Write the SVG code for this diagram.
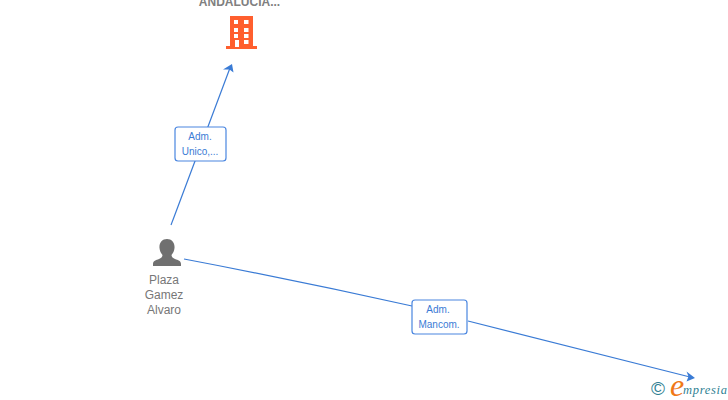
<svg xmlns="http://www.w3.org/2000/svg" width="728" height="400" viewBox="0 0 728 400">
<style>
.edge{fill:none;stroke:#3a7bd5;stroke-width:1.2}
.head{fill:#3a7bd5}
.lbl{fill:#fff;stroke:#4a86e0;stroke-width:1.2}
.lt{font:10px "Liberation Sans",Arial,sans-serif;fill:#3a7bd5;text-anchor:middle}
.nt{font:12px "Liberation Sans",Arial,sans-serif;fill:#777;text-anchor:middle}
</style>
<rect width="728" height="400" fill="#fff"/>
<g id="connectors">
<path class="edge" d="M171 225L230 68"/>
<path class="head" d="M232 64L233.500 72.500L229.500 69.500L223 69.500Z"/>
<path class="edge" d="M184 259Q300 281 412 306M468 321L690 377"/>
<path class="head" d="M695 378L686.500 381.500L688.500 376.500L686.500 371.500Z"/>
</g>
<g id="edge-label-1">
<rect class="lbl" x="175" y="127" width="51" height="34" rx="3"/>
<text class="lt" x="200" y="140">Adm.</text>
<text class="lt" x="200" y="155">Unico,...</text>
</g>
<g id="edge-label-2">
<rect class="lbl" x="412" y="300" width="55" height="34" rx="3"/>
<text class="lt" x="438" y="313">Adm.</text>
<text class="lt" x="439" y="328">Mancom.</text>
</g>
<g id="node-company">
<text x="239.500" y="6" style="font:bold 12px 'Liberation Sans',Arial,sans-serif;fill:#808080;text-anchor:middle">ANDALUCIA...</text>
<path fill="#ff5f2e" fill-rule="evenodd" d="M230 16H253V46H257V49H226V46H230ZM234 20V24H238V20ZM244 20V24H248.500V20ZM234 28V32H238V28ZM244 28V32H248.500V28ZM234 34V38H238V34ZM244 34V38H248.500V34ZM235 40V47H239V40ZM244 40V44H248.500V40Z"/>
</g>
<g id="node-person">
<path fill="#707070" d="M167 239C172 239 175 243 174.500 248C174.300 251 173 253 171.500 255C171.500 257 173 258 175 259C178 260 181 261 181 264V266H153V264C153 261 156 260 159 259C161 258 162.500 257 162.500 255C161 253 159.700 251 159.500 248C159 243 162 239 167 239Z"/>
<text class="nt" x="164" y="284">Plaza</text>
<text class="nt" x="164" y="299">Gamez</text>
<text class="nt" x="164" y="314">Alvaro</text>
</g>
<g id="watermark">
<text x="658" y="395" style="font:19px 'Liberation Sans',Arial,sans-serif;fill:#2f7f93;text-anchor:middle">©</text>
<text x="670" y="396" style="font:italic 32px 'Liberation Serif',serif;fill:#f07818">e</text>
<text x="683" y="394" style="font:italic 12.500px 'Liberation Serif',serif;fill:#2f7f93;letter-spacing:.7px">mpresia</text>
</g>
</svg>
